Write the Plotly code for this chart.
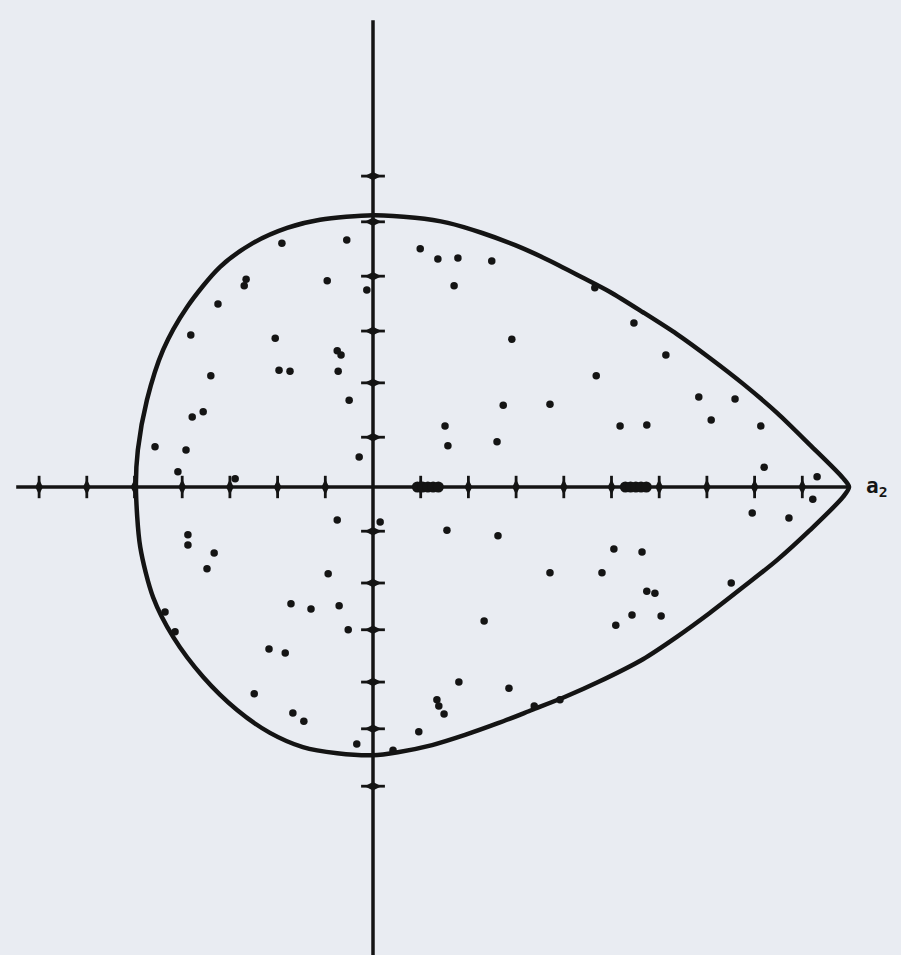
import plotly.graph_objects as go

# ---- data (units: horizontal tick = 1, vertical tick ~ 1) ----
curve_x = [9.98, 9.85, 9.16, 8.47, 7.76, 7.06, 6.37, 5.66, 4.97, 4.38, 3.67, 2.98, 2.29, 1.57, 0.88, 0.0,
           -1.11, -1.80, -2.52, -3.21, -3.90, -4.40, -4.74, -4.93, -4.97,
           -4.88, -4.61, -4.19, -3.56, -2.85, -2.16, -1.47, -0.75, 0.0, 0.52, 1.24, 1.93, 2.62, 3.33, 4.03,
           4.72, 5.66, 6.37, 7.06, 7.76, 8.47, 9.16, 9.85, 9.98]
curve_y = [0.0, 0.18, 0.83, 1.46, 2.03, 2.54, 3.01, 3.44, 3.84, 4.13, 4.47, 4.76, 5.00, 5.20, 5.30, 5.35,
           5.26, 5.10, 4.80, 4.33, 3.54, 2.70, 1.71, 0.73, 0.0,
           -1.18, -2.17, -2.95, -3.74, -4.39, -4.84, -5.12, -5.24, -5.28, -5.22, -5.08, -4.88, -4.65, -4.39, -4.13,
           -3.84, -3.39, -2.95, -2.48, -1.97, -1.44, -0.85, -0.20, 0.0]

dots_x = [-1.91, -0.55, -2.66, -2.70, -0.96, -0.13, -3.25, -3.82, -2.05, -0.75, -0.67, -3.40, -1.97, -1.74,
          -0.73, -0.50, -3.79, -3.56, -4.57, -3.92, -0.29, -4.09, -2.89,
          0.99, 1.36, 1.78, 2.49, 1.70, 2.91, 4.68, 2.73, 3.71, 1.51, 1.57, 2.60, 5.18, 4.65,
          5.47, 6.14, 6.83, 7.59, 5.74, 7.09, 8.13, 8.20, 9.31,
          -3.88, -3.88, -3.33, -3.48, -0.75, -0.94, -1.72, -1.30, -0.71, -0.52, -2.18, -1.84, -2.49, -1.68,
          -1.45, -0.34, -4.36, -4.15,
          0.15, 1.55, 2.62, 5.05, 3.71, 4.80, 2.33, 5.09, 1.80, 2.85, 1.34, 1.38, 1.49, 3.38, 0.96, 3.92, 0.42,
          9.22, 7.95, 8.72, 5.64, 5.74, 5.91, 7.51, 5.43, 6.04]
dots_y = [4.80, 4.86, 4.09, 3.96, 4.06, 3.88, 3.60, 2.99, 2.93, 2.68, 2.60, 2.19, 2.30, 2.28,
          2.28, 1.71, 1.38, 1.48, 0.79, 0.73, 0.59, 0.30, 0.16,
          4.69, 4.49, 4.51, 4.45, 3.96, 2.91, 2.19, 1.61, 1.63, 1.20, 0.81, 0.89, 1.20, 3.92,
          3.23, 2.60, 1.77, 1.73, 1.22, 1.32, 1.20, 0.39, 0.20,
          -0.94, -1.14, -1.30, -1.61, -0.65, -1.71, -2.30, -2.40, -2.34, -2.81, -3.19, -3.27, -4.07, -4.45,
          -4.61, -5.06, -2.46, -2.85,
          -0.69, -0.85, -0.96, -1.22, -1.69, -1.69, -2.64, -2.72, -3.84, -3.96, -4.19, -4.31, -4.47, -4.31, -4.82, -4.19, -5.18,
          -0.24, -0.51, -0.61, -1.28, -2.05, -2.09, -1.89, -2.52, -2.54]

double_roots = [1.15, 5.51]

x_ticks = [-7, -6, -5, -4, -3, -2, -1, 1, 2, 3, 4, 5, 6, 7, 8, 9]
y_ticks = [6.12, 5.22, 4.15, 3.07, 2.05, 0.98, -0.87, -1.89, -2.81, -3.84, -4.76, -5.89]

x_axis_extent = [-7.48, 10.0]
y_axis_extent = [9.19, -9.25]

label_text = "<b>a</b><sub><b>2</b></sub>"

INK = "#141414"
BG = "#e9ecf2"

fig = go.Figure()

# axes
fig.add_trace(go.Scatter(x=x_axis_extent, y=[0, 0], mode="lines",
                         line=dict(color=INK, width=3.5), hoverinfo="skip"))
fig.add_trace(go.Scatter(x=[0, 0], y=y_axis_extent, mode="lines",
                         line=dict(color=INK, width=3.5), hoverinfo="skip"))

# ticks (thin stroke + thick diamond core, like the inked ticks)
fig.add_trace(go.Scatter(x=x_ticks, y=[0] * len(x_ticks), mode="markers",
                         marker=dict(symbol="line-ns", size=16, line=dict(color=INK, width=2.8)),
                         hoverinfo="skip"))
fig.add_trace(go.Scatter(x=x_ticks, y=[0] * len(x_ticks), mode="markers",
                         marker=dict(symbol="diamond-tall", size=11, color=INK, line=dict(width=0)),
                         hoverinfo="skip"))
fig.add_trace(go.Scatter(x=[0] * len(y_ticks), y=y_ticks, mode="markers",
                         marker=dict(symbol="line-ew", size=17, line=dict(color=INK, width=2.8)),
                         hoverinfo="skip"))
fig.add_trace(go.Scatter(x=[0] * len(y_ticks), y=y_ticks, mode="markers",
                         marker=dict(symbol="diamond-wide", size=12, color=INK, line=dict(width=0)),
                         hoverinfo="skip"))

# boundary curve
fig.add_trace(go.Scatter(x=curve_x, y=curve_y, mode="lines",
                         line=dict(color=INK, width=4.5, shape="spline", smoothing=0.8),
                         hoverinfo="skip"))

# blobs (double roots) on the axis
offsets = [-0.22, -0.11, 0.0, 0.11, 0.22]
for c in double_roots:
    fig.add_trace(go.Scatter(x=[c + o for o in offsets], y=[0] * len(offsets), mode="markers",
                             marker=dict(symbol="circle", size=11, color=INK), hoverinfo="skip"))

# scattered points
fig.add_trace(go.Scatter(x=dots_x, y=dots_y, mode="markers",
                         marker=dict(symbol="circle", size=7.5, color=INK), hoverinfo="skip"))

fig.add_annotation(x=10.3, y=0.0, xref="x", yref="y", text=label_text, showarrow=False,
                   xanchor="left", yanchor="middle",
                   font=dict(family="DejaVu Sans Mono", size=21, color=INK))

fig.update_layout(
    width=901, height=955,
    margin=dict(l=0, r=0, t=0, b=0),
    paper_bgcolor=BG, plot_bgcolor=BG,
    showlegend=False,
    xaxis=dict(range=[-373 / 47.7, (901 - 373) / 47.7], visible=False, fixedrange=True),
    yaxis=dict(range=[(487 - 955) / 50.8, 487 / 50.8], visible=False, fixedrange=True),
)

fig.write_html("out.html", config={"displayModeBar": False},
               post_script="document.body.style.margin='0';document.body.style.overflow='hidden';")
